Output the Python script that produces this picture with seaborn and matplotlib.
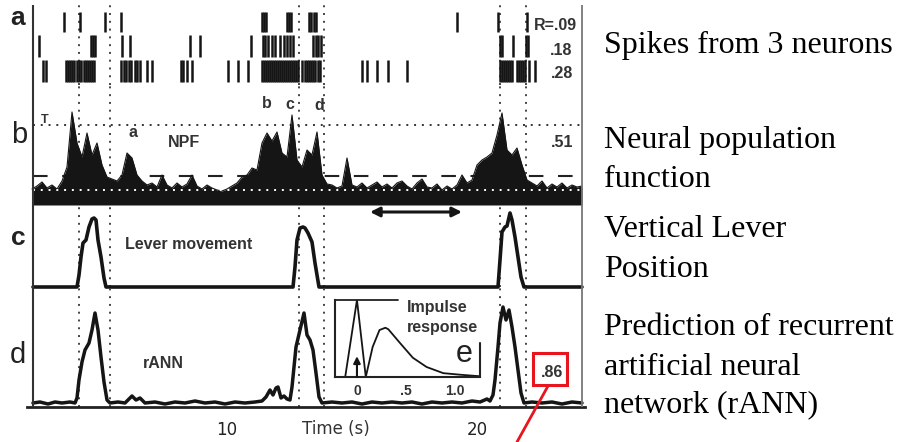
import numpy as np
import pandas as pd
import matplotlib
matplotlib.use("Agg")
import matplotlib.pyplot as plt
from matplotlib.patches import Rectangle
from matplotlib.lines import Line2D
import seaborn as sns

# ---------------- data ----------------
# (a) spike times (s) for three neurons
spike_times_n1 = [3.48, 4.12, 5.12, 5.76, 11.40, 11.48, 11.56, 12.40, 12.48, 12.56,
                  13.28, 13.36, 13.48, 13.56, 19.20, 20.84, 22.00]
spike_times_n2 = [2.48, 4.56, 4.64, 4.72, 5.80, 6.12, 8.52, 8.92, 10.96, 11.44, 11.52,
                  11.64, 11.80, 11.92, 12.12, 12.28, 12.40, 12.52, 12.64, 13.44, 13.56,
                  13.64, 13.76, 20.92, 21.00, 21.44, 21.96, 22.04]
spike_times_n3 = [2.64, 2.76, 3.56, 3.64, 3.72, 3.80, 3.88, 4.00, 4.08, 4.16, 4.28, 4.36,
                  4.44, 4.52, 4.60, 4.68, 5.76, 5.88, 5.96, 6.08, 6.16, 6.32, 6.40, 6.52,
                  6.80, 7.00, 8.16, 8.24, 8.40, 8.60, 10.04, 10.44, 10.84, 11.40, 11.48,
                  11.56, 11.64, 11.72, 11.80, 11.88, 11.96, 12.04, 12.12, 12.20, 12.28,
                  12.36, 12.44, 12.52, 12.60, 12.68, 12.76, 12.84, 13.00, 13.12, 13.20,
                  13.28, 13.36, 13.44, 13.52, 13.64, 13.72, 15.40, 15.60, 16.00, 16.44,
                  17.20, 20.92, 21.00, 21.08, 21.16, 21.24, 21.32, 21.40, 21.60, 21.68,
                  21.76, 21.84, 21.92, 22.08, 22.32]
neuron_r_labels = ["R=.09", ".18", ".28"]

# (b) neural population function, sampled every 0.2 s from 2.2 s (a.u.)
npf_start, npf_step = 2.2, 0.2
npf_values = [16, 19, 23, 17, 20, 16, 24, 38, 93, 62,
              48, 72, 50, 62, 40, 28, 26, 24, 30, 52,
              47, 30, 24, 20, 22, 18, 30, 20, 17, 22,
              18, 21, 30, 19, 16, 20, 17, 15, 14, 16,
              19, 22, 28, 30, 37, 35, 62, 72, 64, 73,
              52, 48, 90, 45, 38, 55, 50, 73, 30, 21,
              20, 17, 19, 47, 20, 18, 22, 17, 20, 23,
              18, 21, 17, 22, 24, 19, 16, 22, 26, 18,
              17, 21, 15, 19, 16, 20, 30, 22, 25, 40,
              45, 48, 52, 70, 92, 55, 50, 57, 40, 25,
              22, 19, 24, 17, 21, 18, 22, 17, 20, 18, 19]
npf_dotted_level = 80
npf_dashed_level = 29
npf_floor_level = 15
npf_r_label = ".51"
npf_peak_labels = ["T", "a", "b", "c", "d"]

# (c) vertical lever position
lever_t = [2.24, 4.00, 4.08, 4.16, 4.24, 4.36, 4.48, 4.60, 4.68, 4.76, 4.84, 4.96,
           5.08, 5.16, 12.64, 12.72, 12.80, 12.92, 13.04, 13.12, 13.24, 13.40, 13.52,
           13.68, 20.84, 20.92, 21.00, 21.12, 21.20, 21.32, 21.40, 21.52, 21.64,
           21.76, 21.88, 24.20]
lever_v = [0, 0, 12, 30, 44, 47, 60, 68, 69, 67, 47, 30,
           9, 0, 0, 20, 47, 59, 60, 59, 54, 45, 24,
           0, 0, 27, 55, 60, 61, 74, 67, 50, 30,
           10, 0, 0]

# (d) rANN prediction
rann_t = [2.24, 2.52, 2.84, 3.12, 3.40, 3.72, 3.92, 4.00, 4.08, 4.20, 4.32, 4.48,
          4.60, 4.72, 4.84, 4.96, 5.08, 5.20, 5.32, 5.64, 5.92, 6.20, 6.36, 6.52,
          6.72, 7.12, 7.52, 7.92, 8.32, 8.72, 9.12, 9.52, 9.92, 10.32, 10.72, 11.12,
          11.40, 11.56, 11.72, 11.84, 11.96, 12.04, 12.16, 12.28, 12.40, 12.52,
          12.60, 12.76, 12.92, 13.08, 13.20, 13.32, 13.44, 13.56, 13.68, 13.80,
          14.20, 14.60, 15.00, 15.40, 15.80, 16.20, 16.60, 17.00, 17.40, 17.80,
          18.20, 18.60, 19.00, 19.40, 19.80, 20.12, 20.40, 20.52, 20.64, 20.72,
          20.84, 20.92, 21.04, 21.16, 21.28, 21.40, 21.52, 21.64, 21.76, 21.88,
          22.20, 22.60, 23.00, 23.40, 23.80, 24.20]
rann_v = [2, 3, 1, 3, 2, 3, 2, 7, 25, 43, 55, 62,
          75, 92, 75, 48, 23, 5, 2, 3, 2, 9, 5, 7,
          2, 3, 1, 3, 2, 4, 2, 3, 1, 3, 2, 3,
          4, 8, 15, 10, 17, 18, 7, 9, 6, 5,
          18, 58, 75, 92, 70, 65, 55, 32, 8, 2,
          3, 2, 3, 1, 3, 2, 3, 2, 3, 1,
          3, 2, 3, 2, 4, 3, 6, 4, 10, 25,
          58, 82, 98, 85, 95, 78, 58, 35, 12, 2,
          3, 2, 3, 1, 3, 2]
rann_r_label = ".86"

# (e) impulse response inset
impulse_t = [-0.22, -0.12, 0.0, 0.09, 0.16, 0.23, 0.29, 0.32, 0.44, 0.57, 0.71, 0.88, 1.05, 1.25]
impulse_v = [0, 0, 1.0, 0, 0.39, 0.61, 0.64, 0.62, 0.44, 0.25, 0.13, 0.05, 0.03, 0.01]
impulse_ticks = [0, 0.5, 1.0]
impulse_ticklabels = ["0", ".5", "1.0"]

# movement onset/offset markers (s)
event_times = [4.08, 5.32, 12.88, 13.88, 20.92, 21.96]
time_ticks = list(range(2, 25, 2))
time_ticklabels = ["10" if t == 10 else "20" if t == 20 else "" for t in time_ticks]

side_texts = [("Spikes from 3 neurons", 53), ("Neural population", 148), ("function", 187),
              ("Vertical Lever", 237), ("Position", 277), ("Prediction of recurrent", 335),
              ("artificial neural", 375), ("network (rANN)", 412)]

# ---------------- figure ----------------
sns.set_style("white")
plt.rcParams["font.family"] = ["Liberation Sans", "DejaVu Sans"]

W, H = 900, 442
fig = plt.figure(figsize=(9, 4.42), dpi=100)


def rect(x0, y0, x1, y1):
    return [x0 / W, 1 - y1 / H, (x1 - x0) / W, (y1 - y0) / H]


def ftext(x, y, s, **kw):
    kw.setdefault("va", "baseline")
    return fig.text(x / W, 1 - y / H, s, **kw)


XLIM = (2.0, 24.32)
T_LEFT, T_RIGHT = 2.24, 24.2
INK = "#151515"
GRAY = "#333333"
DOT = (0, (1, 3))

ax_a = fig.add_axes(rect(27, 5, 585, 85))
ax_b = fig.add_axes(rect(27, 85, 585, 205))
ax_c = fig.add_axes(rect(27, 205, 585, 287))
ax_d = fig.add_axes(rect(27, 287, 585, 407))
for ax in (ax_a, ax_b, ax_c, ax_d):
    ax.set_xlim(XLIM)
    ax.patch.set_alpha(0)
    for s in ax.spines.values():
        s.set_visible(False)
    ax.set_xticks([])
    ax.set_yticks([])
    ax.axvline(T_LEFT, color="#333", lw=1.5, zorder=5)
    ax.axvline(T_RIGHT, color="#777", lw=1.3, zorder=5)
    for et in event_times:
        ax.axvline(et, color="#444", lw=1.4, ls=DOT, zorder=1)

# (a) rasters
ax_a.set_ylim(0, 80)
for times, lo, hi in [(spike_times_n1, 53, 73), (spike_times_n2, 28, 50), (spike_times_n3, 3, 25)]:
    ax_a.vlines(times, lo, hi, color=INK, lw=1.8, zorder=3)

# (b) NPF
npf_t = npf_start + npf_step * np.arange(len(npf_values))
npf_df = pd.DataFrame({"t": npf_t, "v": npf_values})
ax_b.fill_between(npf_df["t"], 0, npf_df["v"], color=INK, lw=0, zorder=3)
sns.lineplot(data=npf_df, x="t", y="v", ax=ax_b, color=INK, lw=0.8, zorder=3)
ax_b.plot([T_LEFT, T_RIGHT], [npf_dotted_level] * 2, color="#333", lw=1.4, ls=DOT, zorder=2)
ax_b.plot([T_LEFT, T_RIGHT], [npf_dashed_level] * 2, color="#222", lw=1.5, ls=(0, (7, 7)), zorder=1)
ax_b.plot([T_LEFT, T_RIGHT], [npf_floor_level] * 2, color="white", lw=1.4, ls=DOT, zorder=4)
ax_b.set_ylim(0, 120)
ax_b.set_xlim(XLIM)

# (c) lever
lever_df = pd.DataFrame({"t": lever_t, "v": lever_v})
sns.lineplot(data=lever_df, x="t", y="v", ax=ax_c, color=INK, lw=2.6, zorder=3)
for ln in ax_c.lines:
    ln.set_clip_on(False)
ax_c.set_ylim(0, 82)
ax_c.set_xlim(XLIM)
ax_c.annotate("", xy=(19.4, 75), xytext=(15.72, 75),
              arrowprops=dict(arrowstyle="<|-|>", lw=2.2, color=INK, mutation_scale=14,
                              shrinkA=0, shrinkB=0))

# (d) rANN
rann_df = pd.DataFrame({"t": rann_t, "v": rann_v})
sns.lineplot(data=rann_df, x="t", y="v", ax=ax_d, color=INK, lw=2.5, zorder=3)
ax_d.set_ylim(-2, 118)
ax_d.set_xlim(XLIM)
ax_d.spines["bottom"].set_visible(True)
ax_d.spines["bottom"].set_linewidth(2.0)
ax_d.spines["bottom"].set_color("#222")
ax_d.set_xticks(time_ticks)
ax_d.set_xticklabels(time_ticklabels)
ax_d.tick_params(axis="x", direction="out", length=4, width=2, color="#222", pad=6,
                 labelsize=12, labelcolor="#222")
for lbl in ax_d.get_xticklabels():
    lbl.set_family("DejaVu Sans")

for ax in (ax_a, ax_b, ax_c, ax_d):
    ax.set_xlabel("")
    ax.set_ylabel("")

# (e) inset
ax_e = fig.add_axes(rect(335, 300, 480, 377))
ax_e.patch.set_alpha(0)
sns.lineplot(x=impulse_t, y=impulse_v, ax=ax_e, color=INK, lw=1.3)
ax_e.set_xlim(-0.224, 1.255)
ax_e.set_ylim(0, 1.0)
for side in ("top", "right"):
    ax_e.spines[side].set_visible(False)
for side in ("left", "bottom"):
    ax_e.spines[side].set_linewidth(1.5)
    ax_e.spines[side].set_color("#222")
ax_e.plot([-0.224, 0.42], [1.0, 1.0], color="#222", lw=1.3, clip_on=False)
ax_e.plot([1.255, 1.255], [0, 0.44], color="#222", lw=1.5, clip_on=False)
ax_e.annotate("", xy=(0, 0.27), xytext=(0, 0),
              arrowprops=dict(arrowstyle="-|>", lw=1.5, color=INK, mutation_scale=10,
                              shrinkA=0, shrinkB=0))
ax_e.set_xticks(impulse_ticks)
ax_e.set_xticklabels(impulse_ticklabels)
ax_e.set_yticks([0.25, 0.5, 0.75])
ax_e.set_yticklabels([])
ax_e.tick_params(axis="x", direction="in", length=2, pad=5, labelsize=10, labelcolor=GRAY)
ax_e.tick_params(axis="y", direction="in", length=3)
for lbl in ax_e.get_xticklabels():
    lbl.set_fontweight("bold")
ax_e.set_xlabel("")
ax_e.set_ylabel("")

# ---------------- text ----------------
lab = dict(color=GRAY, weight="bold", size=11.5)
ftext(577, 30, neuron_r_labels[0], ha="right", **lab)
ftext(572, 55, neuron_r_labels[1], ha="right", **lab)
ftext(573, 78, neuron_r_labels[2], ha="right", **lab)

ftext(45, 123, npf_peak_labels[0], ha="center", color=GRAY, weight="bold", size=9)
ftext(133, 137, npf_peak_labels[1], ha="center", **lab)
ftext(267, 108, npf_peak_labels[2], ha="center", **lab)
ftext(290, 109, npf_peak_labels[3], ha="center", **lab)
ftext(319, 110, npf_peak_labels[4], ha="center", **lab)
ftext(168, 147, "NPF", ha="left", **lab)
ftext(573, 147, npf_r_label, ha="right", **lab)

ftext(125, 249, "Lever movement", ha="left", **lab)
ftext(143, 368, "rANN", ha="left", **lab)
ftext(407, 312, "Impulse", ha="left", **lab)
ftext(407, 332, "response", ha="left", **lab)
ftext(464, 362, "e", ha="center", color="#222", size=22)
ftext(563, 377, rann_r_label, ha="right", **lab)

ftext(336, 434, "Time (s)", ha="center", color=GRAY, size=12, family="DejaVu Sans")

ftext(18, 25, "a", ha="center", color="#222", size=19, weight="bold")
ftext(19, 143, "b", ha="center", color="#222", size=21)
ftext(18, 245, "c", ha="center", color="#222", size=19, weight="bold")
ftext(18, 363, "d", ha="center", color="#222", size=21)

for s, yb in side_texts:
    ftext(604, yb, s, ha="left", color="black", size=23, family="Liberation Serif")

# red highlight
RED = "#e8141e"
fig.add_artist(Rectangle((533 / W, 1 - 385 / H), 34 / W, 32 / H, transform=fig.transFigure,
                         fill=False, ec=RED, lw=2.2))
fig.add_artist(Line2D([548 / W, 517 / W], [1 - 386 / H, 1 - 442 / H], transform=fig.transFigure,
                      color=RED, lw=2.0))

fig.savefig("out.png", dpi=100)
